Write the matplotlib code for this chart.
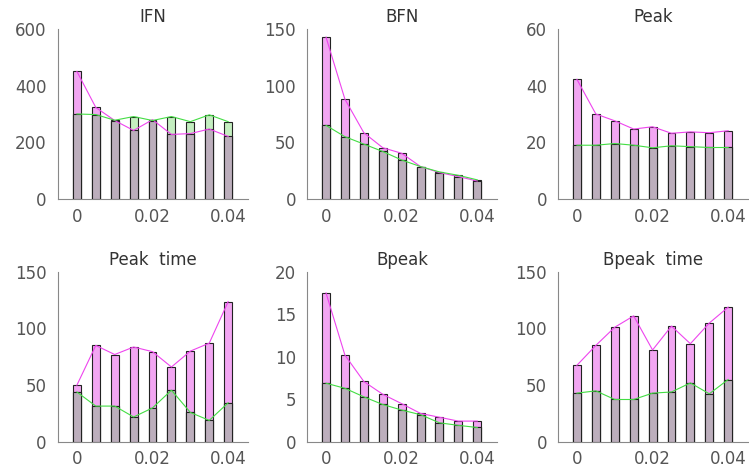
import numpy as np
import matplotlib
matplotlib.use('Agg')
import matplotlib.pyplot as plt

# x positions (shared by all panels)
xvals = [0, 0.005, 0.01, 0.015, 0.02, 0.025, 0.03, 0.035, 0.04]

titles = ['IFN', 'BFN', 'Peak', 'Peak  time', 'Bpeak', 'Bpeak  time']
ylims = [600, 150, 60, 150, 20, 150]
yticks = [[0, 200, 400, 600], [0, 50, 100, 150], [0, 20, 40, 60],
          [0, 50, 100, 150], [0, 5, 10, 15, 20], [0, 50, 100, 150]]

# magenta series
ifn_m = [450, 323, 277, 242, 280, 228, 231, 247, 221]
bfn_m = [142.7, 88, 58.5, 45.3, 40.4, 28.7, 23.4, 19.9, 16]
peak_m = [42.2, 30, 27.6, 24.7, 25.5, 23.2, 23.7, 23.4, 24.1]
ptime_m = [50, 85, 77, 83.6, 79.5, 66, 80, 87, 123.6]
bpeak_m = [17.5, 10.2, 7.1, 5.6, 4.5, 3.35, 2.9, 2.45, 2.45]
btime_m = [67.5, 85, 101, 111, 81, 102, 86.5, 104.7, 118.7]

# green series
ifn_g = [300, 298, 278, 291, 277, 291, 273, 297, 273]
bfn_g = [65, 55, 48.5, 42, 34.5, 28.7, 24, 21, 17]
peak_g = [19, 19, 19.6, 19, 18.1, 18.8, 18.5, 18.2, 18.2]
ptime_g = [44, 31.6, 31.6, 22, 30, 45.6, 26, 19, 34.5]
bpeak_g = [6.9, 6.3, 5.3, 4.4, 3.75, 3.2, 2.25, 1.95, 1.7]
btime_g = [43, 45, 37.4, 37.4, 43, 44, 52, 42.4, 55]

mag = [ifn_m, bfn_m, peak_m, ptime_m, bpeak_m, btime_m]
grn = [ifn_g, bfn_g, peak_g, ptime_g, bpeak_g, btime_g]

plt.rcParams['font.family'] = ['DejaVu Sans']

fig = plt.figure(figsize=(7.49, 4.72), dpi=100)
lefts = [0.0774, 0.41, 0.745]
bottoms = [0.578, 0.0636]
w, h = 0.254, 0.361

for i in range(6):
    r, c = divmod(i, 3)
    ax = fig.add_axes([lefts[c], bottoms[r], w, h])
    m = np.array(mag[i])
    g = np.array(grn[i])
    bw = 0.0021
    ax.bar(xvals, m, width=bw, color='#f2a6f2', edgecolor='#222222', linewidth=0.8, zorder=2)
    ax.bar(xvals, g, width=bw, color='#c4eec0', edgecolor='#222222', linewidth=0.8, zorder=2)
    ax.bar(xvals, np.minimum(m, g), width=bw, color='#bcaebc', edgecolor='#222222', linewidth=0.8, zorder=3)
    ax.plot(xvals, m, color='#ee44ee', linewidth=0.8, zorder=4)
    ax.plot(xvals, g, color='#44dd44', linewidth=0.8, zorder=4)

    ax.set_xlim(-0.005, 0.0453)
    ax.set_ylim(0, ylims[i])
    ax.set_yticks(yticks[i])
    ax.set_xticks([0, 0.02, 0.04])
    ax.set_xticklabels(['0', '0.02', '0.04'])
    for s in ['top', 'right']:
        ax.spines[s].set_visible(False)
    for s in ['left', 'bottom']:
        ax.spines[s].set_color('#888888')
        ax.spines[s].set_linewidth(0.8)
    ax.tick_params(length=0, labelsize=12, labelcolor='#555555', pad=6)
    ax.tick_params(axis='y', pad=8)
    ax.set_title(titles[i], fontsize=12, color='#333333', pad=5)

fig.savefig('out.png', dpi=100)
